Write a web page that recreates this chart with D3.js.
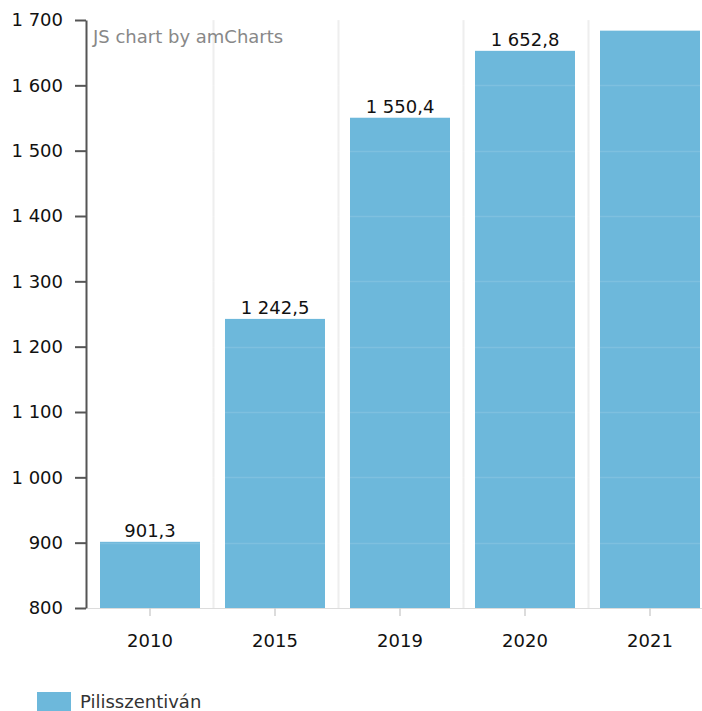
<!DOCTYPE html>
<html>
<head>
<meta charset="utf-8">
<script src="https://cdn.jsdelivr.net/npm/d3@7/dist/d3.min.js"></script>
<style>
  html, body { margin: 0; padding: 0; background: #fff; }
  svg { display: block; font-family: "DejaVu Sans", Verdana, sans-serif; }
</style>
</head>
<body>
<svg id="chart" width="702" height="711"></svg>
<script>
// Population-style series for one settlement
const years = ["2010", "2015", "2019", "2020", "2021"];
const values = [901.3, 1242.5, 1550.4, 1652.8, 1683.7];
const showLabel = [true, true, true, true, false];
const yTicks = [800, 900, 1000, 1100, 1200, 1300, 1400, 1500, 1600, 1700];
const seriesName = "Pilisszentiván";

const svg = d3.select("#chart");
const plot = { left: 87.5, right: 712.5, top: 20, bottom: 608 };
const fontSize = 18;
const fontFamily = "DejaVu Sans, Verdana, sans-serif";

const x = d3.scaleBand().domain(years).range([plot.left, plot.right]).paddingInner(0.2).paddingOuter(0.1);
const y = d3.scaleLinear().domain([800, 1700]).range([plot.bottom, plot.top]);

// Hungarian number format: space thousands, comma decimal
const loc = d3.formatLocale({ decimal: ",", thousands: " ", grouping: [3], currency: ["", " Ft"] });
const fmtInt = loc.format(",d");
const fmtVal = loc.format(",.1f");

const barColor = "#6db8db";

// vertical grid at category boundaries
const step = x.step();
svg.append("g").selectAll("line")
  .data(years.slice(1))
  .join("line")
  .attr("x1", d => Math.round(x(d) - step * 0.1) + 0.5)
  .attr("x2", d => Math.round(x(d) - step * 0.1) + 0.5)
  .attr("y1", plot.top).attr("y2", plot.bottom)
  .attr("stroke", "#eeeeee").attr("stroke-width", 2);

// bars
svg.append("g").selectAll("rect")
  .data(years.map((yr, i) => ({ yr, v: values[i], lab: showLabel[i] })))
  .join("rect")
  .attr("x", d => x(d.yr))
  .attr("width", x.bandwidth())
  .attr("y", d => y(d.v))
  .attr("height", d => y(800) - y(d.v))
  .attr("fill", barColor);

// horizontal grid (light, drawn over bars)
svg.append("g").selectAll("line")
  .data(yTicks.slice(1))
  .join("line")
  .attr("x1", plot.left).attr("x2", plot.right)
  .attr("y1", d => Math.round(y(d)) + 0.5).attr("y2", d => Math.round(y(d)) + 0.5)
  .attr("stroke", "#ffffff").attr("stroke-opacity", 0.12).attr("stroke-width", 1.5);

// value labels
svg.append("g").selectAll("text")
  .data(years.map((yr, i) => ({ yr, v: values[i], lab: showLabel[i] })).filter(d => d.lab))
  .join("text")
  .attr("x", d => x(d.yr) + x.bandwidth() / 2)
  .attr("y", d => y(d.v) - 5)
  .attr("text-anchor", "middle")
  .attr("font-size", fontSize)
  .attr("fill", "#111")
  .text(d => fmtVal(d.v));

// x axis
const xAxis = d3.axisBottom(x).tickSize(8).tickPadding(18).tickSizeOuter(0);
const gx = svg.append("g").attr("transform", `translate(0,${plot.bottom})`).call(xAxis);
gx.select(".domain").attr("stroke", "#dcdcdc").attr("stroke-width", 1);
gx.selectAll(".tick line").attr("stroke", "#d0d0d0").attr("stroke-width", 1.5);
gx.selectAll(".tick text").attr("font-size", fontSize).attr("fill", "#111").attr("font-family", fontFamily);

// y axis
const yAxis = d3.axisLeft(y).tickValues(yTicks).tickSize(11).tickPadding(12).tickSizeOuter(0).tickFormat(fmtInt);
const gy = svg.append("g").attr("transform", `translate(${plot.left - 1.5},0)`).call(yAxis);
gy.select(".domain").attr("stroke", "#555").attr("stroke-width", 2);
gy.selectAll(".tick line").attr("stroke", "#555").attr("stroke-width", 2);
gy.selectAll(".tick text").attr("font-size", fontSize).attr("fill", "#111").attr("font-family", fontFamily);

// credit text
svg.append("text")
  .attr("x", 93).attr("y", 43)
  .attr("font-size", fontSize).attr("fill", "#888")
  .text("JS chart by amCharts");

// legend
const lg = svg.append("g").attr("transform", "translate(37,692)");
lg.append("rect").attr("width", 34).attr("height", 19).attr("fill", barColor);
lg.append("text").attr("x", 43).attr("y", 16).attr("font-size", fontSize).attr("fill", "#333").text(seriesName);
</script>
</body>
</html>
